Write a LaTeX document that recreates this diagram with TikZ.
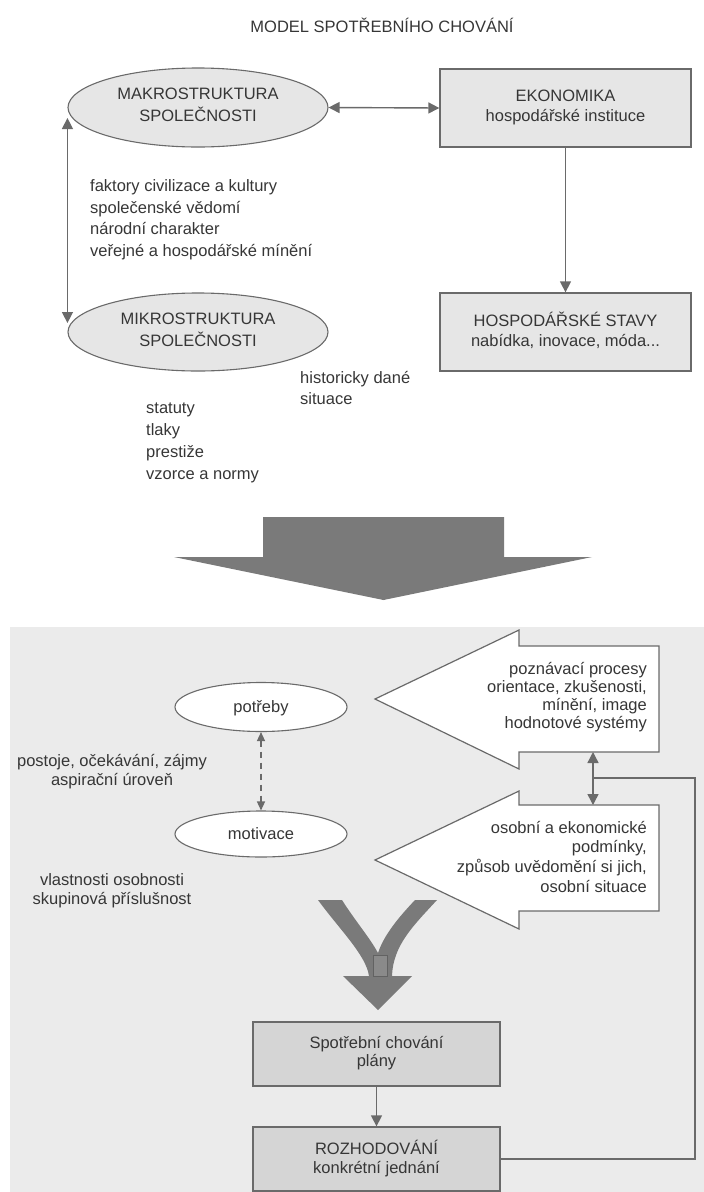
\documentclass[tikz,border=0pt]{standalone}
\usepackage{fontspec}
\setmainfont{Liberation Sans}
\usetikzlibrary{shapes.geometric,arrows.meta}

\definecolor{ink}{HTML}{363636}
\definecolor{edge}{HTML}{6A6A6A}
\definecolor{lightfill}{HTML}{E6E6E6}
\definecolor{panelfill}{HTML}{EBEBEB}
\definecolor{boxfill}{HTML}{D5D5D5}
\definecolor{bigarrow}{HTML}{7A7A7A}

% invisible strut that fixes the height of the first and the depth of the last line
\newcommand{\lnstrut}{\vrule width 0pt height 16pt depth 5pt\relax}

\tikzset{
  gtip/.tip={Triangle[width=11pt,length=11pt]},
  stip/.tip={Triangle[width=8pt,length=9pt]},
  lead/.style={font=\fontsize{16.5}{#1}\selectfont},
  txtnode/.style={text=ink, inner sep=0pt, lead=22,
    execute at begin node=\lnstrut, execute at end node=\lnstrut},
  oval/.style={txtnode, ellipse, draw=edge, line width=1.1pt, align=center},
  plainbox/.style={txtnode, rectangle, draw=edge, line width=1.3pt, align=center},
  link/.style={draw=edge, line width=1.4pt},
}

\begin{document}
\lineskiplimit=-100pt
\begin{tikzpicture}[x=1pt,y=-1pt]
\path[use as bounding box] (0,0) rectangle (704,1192);

% ---------- society and economy ----------
\node[txtnode, align=center] (title) at (382,26.5) {MODEL SPOTŘEBNÍHO CHOVÁNÍ};

\node[oval, fill=lightfill, minimum width=260pt, minimum height=79pt]
  (makro) at (198,107.5) {MAKROSTRUKTURA\\SPOLEČNOSTI};
\node[plainbox, fill=lightfill, lead=20, minimum width=251pt, minimum height=78pt]
  (eko) at (565.5,108) {EKONOMIKA\\hospodářské instituce};
\node[oval, fill=lightfill, minimum width=260pt, minimum height=78pt]
  (mikro) at (198,332) {MIKROSTRUKTURA\\SPOLEČNOSTI};
\node[plainbox, fill=lightfill, lead=20, minimum width=251pt, minimum height=78pt]
  (hosp) at (565.5,332) {HOSPODÁŘSKÉ STAVY\\nabídka, inovace, móda...};

\node[txtnode, anchor=west, align=left, lead=21.7] (faktory) at (90,220.5)
  {faktory civilizace a kultury\\společenské vědomí\\národní charakter\\veřejné a hospodářské mínění};
\node[txtnode, anchor=west, align=left, lead=21] (hist) at (300,390.5)
  {historicky dané\\situace};
\node[txtnode, anchor=west, align=left] (stat) at (146,444)
  {statuty\\tlaky\\prestiže\\vzorce a normy};

\draw[link, gtip-gtip] (makro.east) -- (eko.west);
\draw[link, -gtip] (eko.south) -- (hosp.north);
\draw[link, gtip-gtip] ([yshift=-10.5pt]makro.west) -- ([yshift=9pt]mikro.west);

% broad arrow leading into the consumer block
\fill[bigarrow] (263,517) -- (504,517) -- (504,557) -- (592,557)
  -- (383.5,600) -- (174,557) -- (263,557) -- cycle;

% ---------- consumer block ----------
\fill[panelfill] (10,627) rectangle (704,1192);

\node[oval, fill=white, minimum width=172pt, minimum height=49pt] (potreby) at (261,707) {potřeby};
\node[oval, fill=white, minimum width=172pt, minimum height=46pt] (motivace) at (261,834) {motivace};
\draw[link, dash pattern=on 6pt off 5pt, stip-stip] (potreby.south) -- (motivace.north);

\node[txtnode, align=center, lead=19] (postoje) at (112,772.5)
  {postoje, očekávání, zájmy\\aspirační úroveň};
\node[txtnode, align=center, lead=19] (vlast) at (112,891.5)
  {vlastnosti osobnosti\\skupinová příslušnost};

% two wide arrows pointing left
\draw[edge, fill=white, line width=1.2pt, line join=miter]
  (375,699) -- (519,630) -- (519,646) -- (659,646) -- (659,752)
  -- (519,752) -- (519,769) -- cycle;
\node[txtnode, anchor=east, align=right, lead=18.2] (pozn) at (647,698)
  {poznávací procesy\\orientace, zkušenosti,\\mínění, image\\hodnotové systémy};

\draw[edge, fill=white, line width=1.2pt, line join=miter]
  (375,860) -- (519,791) -- (519,805) -- (659,805) -- (659,911)
  -- (519,911) -- (519,929) -- cycle;
\node[txtnode, anchor=east, align=right, lead=19.7] (osob) at (647,859)
  {osobní a ekonomické\\podmínky,\\způsob uvědomění si jich,\\osobní situace};

\coordinate (upA) at (593,752);
\coordinate (loA) at (593,805);
\draw[link, gtip-gtip] (upA) -- (loA);

% merging arrow: two curved arms joining into one head
\fill[bigarrow] (318,900) -- (342,900)
  .. controls (356,922) and (370,938) .. (378,953)
  .. controls (384,935) and (398,918) .. (415,900)
  -- (437,900)
  .. controls (414,925) and (393,945) .. (392,976)
  -- (412,976) -- (378,1010) -- (343,976) -- (369,976)
  .. controls (366,955) and (340,930) .. (318,900) -- cycle;
\draw[fill=bigarrow!88!white, draw=bigarrow!80!black, line width=0.6pt]
  (373,955) rectangle (387,976);

\node[plainbox, fill=boxfill, lead=18.5, minimum width=247pt, minimum height=64pt]
  (plany) at (376.5,1054) {Spotřební chování\\plány};
\node[plainbox, fill=boxfill, lead=19, minimum width=247pt, minimum height=64pt]
  (rozh) at (376.5,1159) {ROZHODOVÁNÍ\\konkrétní jednání};
\draw[link, -gtip] (plany.south) -- (rozh.north);

% feedback from the decision back to the conditions
\coordinate (fbJ) at (593,778);
\coordinate (fbC) at (695,778);
\draw[link] (rozh.east) -| (fbC) -- (fbJ);
\end{tikzpicture}
\end{document}
